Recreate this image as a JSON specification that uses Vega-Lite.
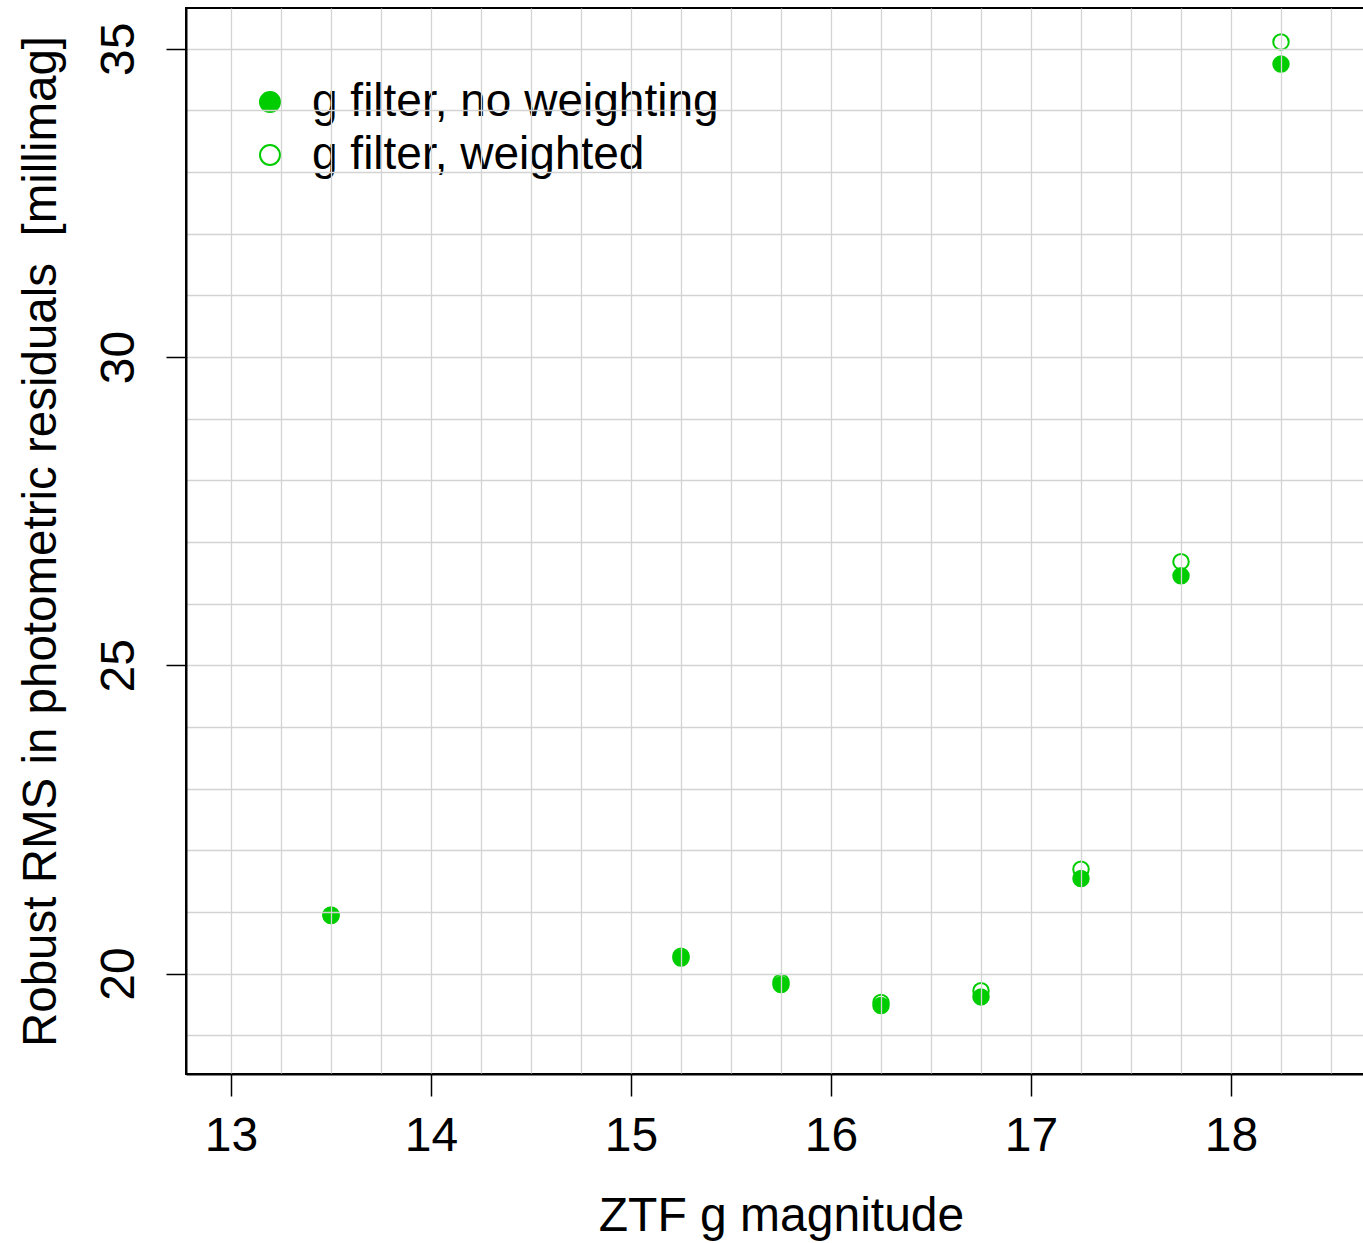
{
  "$schema": "https://vega.github.io/schema/vega-lite/v6.json",
  "width": 1180,
  "height": 1066,
  "autosize": {"type": "none"},
  "padding": {"left": 186, "top": 8, "right": 0, "bottom": 169},
  "background": "white",
  "config": {
    "view": {"stroke": "black", "strokeWidth": 2},
    "font": "Liberation Sans"
  },
  "data": {
    "values": [
      {"mag": 13.5, "rms": 20.94, "series": "g filter, no weighting"},
      {"mag": 15.25, "rms": 20.25, "series": "g filter, no weighting"},
      {"mag": 15.75, "rms": 19.82, "series": "g filter, no weighting"},
      {"mag": 16.25, "rms": 19.48, "series": "g filter, no weighting"},
      {"mag": 16.75, "rms": 19.62, "series": "g filter, no weighting"},
      {"mag": 17.25, "rms": 21.54, "series": "g filter, no weighting"},
      {"mag": 17.75, "rms": 26.45, "series": "g filter, no weighting"},
      {"mag": 18.25, "rms": 34.75, "series": "g filter, no weighting"},
      {"mag": 13.5, "rms": 20.95, "series": "g filter, weighted"},
      {"mag": 15.25, "rms": 20.28, "series": "g filter, weighted"},
      {"mag": 15.75, "rms": 19.86, "series": "g filter, weighted"},
      {"mag": 16.25, "rms": 19.53, "series": "g filter, weighted"},
      {"mag": 16.75, "rms": 19.72, "series": "g filter, weighted"},
      {"mag": 17.25, "rms": 21.69, "series": "g filter, weighted"},
      {"mag": 17.75, "rms": 26.68, "series": "g filter, weighted"},
      {"mag": 18.25, "rms": 35.11, "series": "g filter, weighted"}
    ]
  },
  "mark": {"type": "point", "filled": true, "size": 240, "stroke": "#00cd00", "strokeWidth": 2, "opacity": 1, "clip": true},
  "encoding": {
    "x": {
      "field": "mag",
      "type": "quantitative",
      "scale": {"domain": [12.775, 18.675], "nice": false, "zero": false},
      "axis": {
        "values": [13, 13.25, 13.5, 13.75, 14, 14.25, 14.5, 14.75, 15, 15.25, 15.5, 15.75, 16, 16.25, 16.5, 16.75, 17, 17.25, 17.5, 17.75, 18, 18.25, 18.5],
        "grid": true,
        "gridColor": "#d3d3d3",
        "gridWidth": 1.3,
        "zindex": 1,
        "domainColor": "black",
        "domainWidth": 2,
        "tickColor": "black",
        "tickWidth": 1.5,
        "tickSize": 22,
        "tickOpacity": {"condition": {"test": "datum.value % 1 === 0", "value": 1}, "value": 0},
        "labelExpr": "datum.value % 1 === 0 ? format(datum.value, 'd') : ''",
        "labelFont": "Liberation Sans",
        "labelFontSize": 48,
        "labelColor": "black",
        "labelBaseline": "alphabetic",
        "labelPadding": 54,
        "labelOverlap": false,
        "labelFlush": false,
        "title": "ZTF g magnitude",
        "titleFont": "Liberation Sans",
        "titleFontSize": 48,
        "titleFontWeight": "normal",
        "titleColor": "black",
        "titleX": 595,
        "titleY": 156,
        "titleAlign": "center",
        "titleBaseline": "alphabetic"
      }
    },
    "y": {
      "field": "rms",
      "type": "quantitative",
      "scale": {"domain": [18.37, 35.66], "nice": false, "zero": false},
      "axis": {
        "values": [19, 20, 21, 22, 23, 24, 25, 26, 27, 28, 29, 30, 31, 32, 33, 34, 35],
        "grid": true,
        "gridColor": "#d3d3d3",
        "gridWidth": 1.3,
        "zindex": 1,
        "domainColor": "black",
        "domainWidth": 2,
        "tickColor": "black",
        "tickWidth": 1.5,
        "tickSize": 20,
        "tickOpacity": {"condition": {"test": "datum.value % 5 === 0", "value": 1}, "value": 0},
        "labelExpr": "datum.value % 5 === 0 ? format(datum.value, 'd') : ''",
        "labelFont": "Liberation Sans",
        "labelFontSize": 48,
        "labelColor": "black",
        "labelAngle": -90,
        "labelAlign": "center",
        "labelBaseline": "alphabetic",
        "labelPadding": 33,
        "labelOverlap": false,
        "labelFlush": false,
        "title": "Robust RMS in photometric residuals \u00a0[millimag]",
        "titleFont": "Liberation Sans",
        "titleFontSize": 47.5,
        "titleFontWeight": "normal",
        "titleColor": "black",
        "titleAngle": -90,
        "titleX": -131,
        "titleY": 533,
        "titleAlign": "center",
        "titleBaseline": "alphabetic"
      }
    },
    "fill": {
      "field": "series",
      "type": "nominal",
      "scale": {"domain": ["g filter, no weighting", "g filter, weighted"], "range": ["#00cd00", "transparent"]},
      "legend": {
        "orient": "none",
        "legendX": 61,
        "legendY": 71,
        "title": null,
        "symbolType": "circle",
        "symbolSize": 400,
        "symbolStrokeColor": "#00cd00",
        "symbolStrokeWidth": 2,
        "symbolOpacity": 1,
        "labelFont": "Liberation Sans",
        "labelFontSize": 46,
        "labelColor": "black",
        "labelOffset": 19,
        "labelLimit": 0,
        "rowPadding": 7,
        "padding": 0
      }
    }
  }
}
